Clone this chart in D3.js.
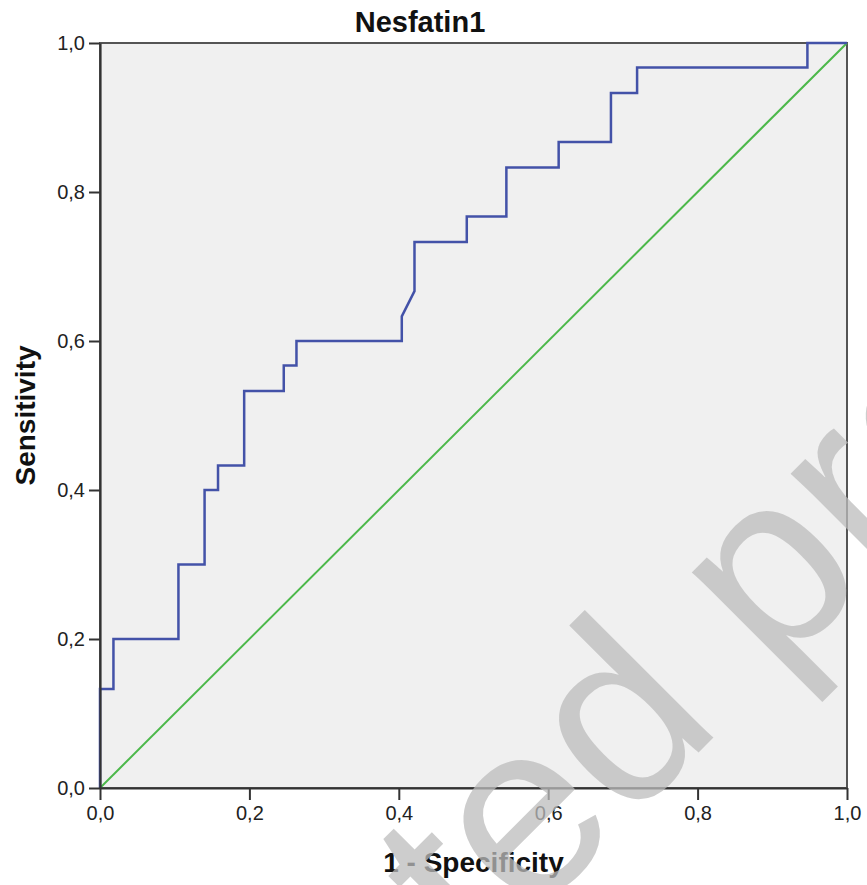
<!DOCTYPE html>
<html>
<head>
<meta charset="utf-8">
<script src="https://cdn.jsdelivr.net/npm/d3@7"></script>
<style>
  body { margin: 0; background: #fff; }
  .wrapper text { font-family: "Liberation Sans", Arial, sans-serif; }
</style>
</head>
<body>
<div id="wrapper" class="wrapper"></div>
<script>
const chartTitle = "Nesfatin1"
const xLabel = "1 - Specificity"
const yLabel = "Sensitivity"

// ROC points
const falsePositiveRate = [0, 0, 0.018, 0.018, 0.105, 0.105, 0.140, 0.140, 0.158, 0.158, 0.193, 0.193,
    0.246, 0.246, 0.263, 0.263, 0.404, 0.404, 0.421, 0.421, 0.491, 0.491, 0.544, 0.544,
    0.614, 0.614, 0.684, 0.684, 0.719, 0.719, 0.947, 0.947, 1]
const sensitivity = [0, 0.133, 0.133, 0.2, 0.2, 0.3, 0.3, 0.4, 0.4, 0.433, 0.433, 0.533,
    0.533, 0.567, 0.567, 0.6, 0.6, 0.633, 0.667, 0.733, 0.733, 0.767, 0.767, 0.833,
    0.833, 0.867, 0.867, 0.933, 0.933, 0.967, 0.967, 1, 1]

const referenceLine = [0, 1]
const tickValues = [0, 0.2, 0.4, 0.6, 0.8, 1.0]

draw()

function draw() {
    const dataset = falsePositiveRate.map((x, i) => ({x, y: sensitivity[i]}))
    const diagonal = referenceLine.map(v => ({x: v, y: v}))

    let dimensions = {
        width: 867,
        height: 885,
        margin: {
            top: 43,
            right: 20,
            bottom: 97,
            left: 100,
        }
    }
    dimensions.boundedWidth = dimensions.width - dimensions.margin.left - dimensions.margin.right
    dimensions.boundedHeight = dimensions.height - dimensions.margin.top - dimensions.margin.bottom

    const wrapper = d3.select("#wrapper")
        .append("svg")
            .attr("width", dimensions.width)
            .attr("height", dimensions.height)

    const bounds = wrapper.append("g")
        .attr("transform", `translate(${dimensions.margin.left},${dimensions.margin.top})`)

    const xAccessor = d => d.x
    const yAccessor = d => d.y

    const xScale = d3.scaleLinear()
        .domain([0, 1])
        .range([0, dimensions.boundedWidth])

    const yScale = d3.scaleLinear()
        .domain([0, 1])
        .range([dimensions.boundedHeight, 0])

    const commaFormat = d3.formatLocale({decimal: ",", thousands: ".", grouping: [3], currency: ["", ""]})
        .format(".1f")

    bounds.append("rect")
        .attr("width", dimensions.boundedWidth)
        .attr("height", dimensions.boundedHeight)
        .attr("fill", "#f0f0f0")
        .attr("stroke", "#555")
        .attr("stroke-width", 2)

    const lineGenerator = d3.line()
        .x(d => xScale(xAccessor(d)))
        .y(d => yScale(yAccessor(d)))

    bounds.append("path")
        .attr("d", lineGenerator(diagonal))
        .attr("fill", "none")
        .attr("stroke", "#4cb84a")
        .attr("stroke-width", 2)

    bounds.append("path")
        .attr("d", lineGenerator(dataset))
        .attr("fill", "none")
        .attr("stroke", "#4352a8")
        .attr("stroke-width", 2.5)

    const xAxisGenerator = d3.axisBottom()
        .scale(xScale)
        .tickValues(tickValues)
        .tickFormat(commaFormat)
        .tickSize(12)
        .tickSizeOuter(0)
        .tickPadding(6)

    const yAxisGenerator = d3.axisLeft()
        .scale(yScale)
        .tickValues(tickValues)
        .tickFormat(commaFormat)
        .tickSize(11)
        .tickSizeOuter(0)
        .tickPadding(4)

    const xAxis = bounds.append("g")
        .attr("transform", `translate(0,${dimensions.boundedHeight})`)
        .call(xAxisGenerator)

    const yAxis = bounds.append("g")
        .call(yAxisGenerator)

    ;[xAxis, yAxis].forEach(axis => {
        axis.select(".domain").attr("stroke", "#333").attr("stroke-width", 2.2)
        axis.selectAll(".tick line").attr("stroke", "#333").attr("stroke-width", 2)
        axis.selectAll(".tick text")
            .attr("fill", "#222")
            .style("font-size", "20px")
            .style("font-family", "'Liberation Sans', Arial, sans-serif")
    })

    wrapper.append("text")
        .attr("x", 420)
        .attr("y", 32)
        .attr("text-anchor", "middle")
        .style("font-size", "29px")
        .style("font-weight", "bold")
        .attr("fill", "#111")
        .text(chartTitle)

    bounds.append("text")
        .attr("x", dimensions.boundedWidth / 2)
        .attr("y", dimensions.boundedHeight + 84)
        .attr("text-anchor", "middle")
        .style("font-size", "28px")
        .style("font-weight", "bold")
        .attr("fill", "#111")
        .text(xLabel)

    bounds.append("text")
        .attr("transform", `translate(-65,${dimensions.boundedHeight / 2}) rotate(-90)`)
        .attr("text-anchor", "middle")
        .style("font-size", "28px")
        .style("font-weight", "bold")
        .attr("fill", "#111")
        .text(yLabel)

    // watermark over the whole picture
    wrapper.append("text")
        .attr("transform", "translate(479,972) rotate(-45)")
        .style("font-size", "250px")
        .attr("fill", "#bcbcbc")
        .attr("fill-opacity", 0.75)
        .text("ted proof")
}
</script>
</body>
</html>
